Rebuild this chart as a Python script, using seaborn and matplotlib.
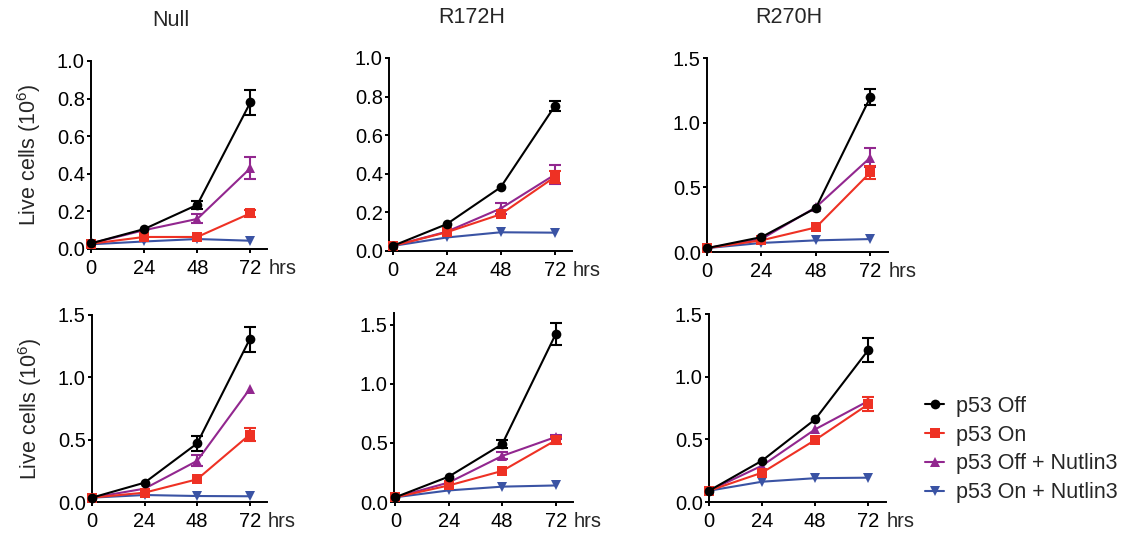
import numpy as np
import pandas as pd
import matplotlib
matplotlib.use("Agg")
import matplotlib.pyplot as plt
import seaborn as sns
from matplotlib.ticker import FormatStrFormatter
from matplotlib.lines import Line2D

sns.set_theme(style="ticks")
plt.rcParams["font.family"] = ["Liberation Sans", "DejaVu Sans"]
plt.rcParams["mathtext.fontset"] = "custom"
plt.rcParams["mathtext.rm"] = "Liberation Sans"
plt.rcParams["mathtext.default"] = "regular"

# ---------------- data ----------------
hours = [0, 24, 48, 72]
conditions = ["p53 Off", "p53 On", "p53 Off + Nutlin3", "p53 On + Nutlin3"]
titles = ["Null", "R172H", "R270H"]
ylabel_text = "Live cells (10$^{6}$)"

# rows = conditions (Off, On, Off+Nutlin3, On+Nutlin3), cols = hours
null_top_mean = [[0.03, 0.106, 0.235, 0.78],
                 [0.028, 0.064, 0.064, 0.19],
                 [0.03, 0.10, 0.16, 0.43],
                 [0.025, 0.04, 0.053, 0.044]]
null_top_err = [[0, 0, 0.022, 0.066],
                [0, 0, 0, 0.02],
                [0, 0, 0.024, 0.058],
                [0, 0, 0, 0]]

r172h_top_mean = [[0.026, 0.139, 0.33, 0.75],
                  [0.026, 0.097, 0.19, 0.383],
                  [0.026, 0.10, 0.22, 0.395],
                  [0.026, 0.07, 0.097, 0.095]]
r172h_top_err = [[0, 0, 0, 0.026],
                 [0, 0, 0, 0.032],
                 [0, 0, 0.03, 0.05],
                 [0, 0, 0, 0]]

r270h_top_mean = [[0.03, 0.115, 0.34, 1.197],
                  [0.03, 0.09, 0.19, 0.615],
                  [0.03, 0.10, 0.346, 0.73],
                  [0.03, 0.07, 0.09, 0.10]]
r270h_top_err = [[0, 0, 0, 0.06],
                 [0, 0, 0, 0.05],
                 [0, 0, 0, 0.075],
                 [0, 0, 0, 0]]

null_bot_mean = [[0.035, 0.155, 0.47, 1.305],
                 [0.035, 0.075, 0.182, 0.54],
                 [0.035, 0.107, 0.33, 0.906],
                 [0.035, 0.056, 0.048, 0.046]]
null_bot_err = [[0, 0, 0.06, 0.10],
                [0, 0, 0, 0.05],
                [0, 0, 0.045, 0],
                [0, 0, 0, 0]]

r172h_bot_mean = [[0.04, 0.215, 0.49, 1.42],
                  [0.04, 0.14, 0.263, 0.522],
                  [0.04, 0.165, 0.39, 0.55],
                  [0.04, 0.098, 0.13, 0.14]]
r172h_bot_err = [[0, 0, 0.035, 0.095],
                 [0, 0, 0, 0.03],
                 [0, 0, 0.03, 0.02],
                 [0, 0, 0, 0]]

r270h_bot_mean = [[0.09, 0.33, 0.66, 1.213],
                  [0.09, 0.234, 0.495, 0.78],
                  [0.09, 0.29, 0.58, 0.806],
                  [0.09, 0.162, 0.19, 0.194]]
r270h_bot_err = [[0, 0, 0, 0.095],
                 [0, 0, 0, 0.055],
                 [0, 0, 0, 0],
                 [0, 0, 0, 0]]

yticks_small = [0.0, 0.2, 0.4, 0.6, 0.8, 1.0]
yticks_large = [0.0, 0.5, 1.0, 1.5]

# ---------------- style ----------------
colors = ["#000000", "#EE3124", "#92278F", "#3A53A4"]
markers = ["o", "s", "^", "v"]
msizes = [7, 7, 7, 7]

W, H = 1124, 536
fig = plt.figure(figsize=(W / 100, H / 100), dpi=100)

FS_TICK = 14.5
FS_LAB = 15.5

panels = [
    dict(title="Null", mean=null_top_mean, err=null_top_err, yt=yticks_small, ylim=(0, 1.0),
         xlim=(0, 79.5), box=(91, 267, 61, 249), ylabel=True),
    dict(title="R172H", mean=r172h_top_mean, err=r172h_top_err, yt=yticks_small, ylim=(0, 1.0),
         xlim=(-1.6, 79.7), box=(389, 572, 58, 251), ylabel=False),
    dict(title="R270H", mean=r270h_top_mean, err=r270h_top_err, yt=yticks_large, ylim=(0, 1.5),
         xlim=(0, 79.8), box=(707, 888, 58, 252), ylabel=False),
    dict(title="", mean=null_bot_mean, err=null_bot_err, yt=yticks_large, ylim=(0, 1.5),
         xlim=(0, 79.9), box=(92, 267, 315, 502), ylabel=True),
    dict(title="", mean=r172h_bot_mean, err=r172h_bot_err, yt=yticks_large, ylim=(0, 1.6),
         xlim=(-0.6, 79.8), box=(394, 573, 313, 502), ylabel=False),
    dict(title="", mean=r270h_bot_mean, err=r270h_bot_err, yt=yticks_large, ylim=(0, 1.5),
         xlim=(0, 80), box=(709, 886, 314, 502), ylabel=False),
]

TICKLEN = 3.0
XPAD = 4.5
YPAD = 1.5

for p in panels:
    l, r, t, b = p["box"]
    ax = fig.add_axes([l / W, 1 - b / H, (r - l) / W, (b - t) / H])
    # draw in reverse so black ends up on top
    for i in reversed(range(len(conditions))):
        df = pd.DataFrame({"hours": hours, "cells": p["mean"][i]})
        sns.lineplot(data=df, x="hours", y="cells", ax=ax, color=colors[i],
                     marker=markers[i], markersize=msizes[i], markeredgewidth=0,
                     linewidth=1.5, errorbar=None, legend=False, clip_on=False,
                     zorder=3 + (3 - i))
        errs = np.array(p["err"][i])
        mask = errs > 0
        if mask.any():
            ax.errorbar(np.array(hours)[mask], np.array(p["mean"][i])[mask],
                        yerr=errs[mask], fmt="none", ecolor=colors[i],
                        elinewidth=1.5, capsize=4, capthick=1.5, clip_on=False,
                        zorder=3 + (3 - i))
    ax.set_xlim(*p["xlim"])
    ax.set_ylim(*p["ylim"])
    ax.set_xticks(hours)
    ax.set_xticklabels([str(h) for h in hours])
    ax.set_yticks(p["yt"])
    ax.yaxis.set_major_formatter(FormatStrFormatter("%.1f"))
    sns.despine(ax=ax)
    for s in ["left", "bottom"]:
        ax.spines[s].set_linewidth(1.4)
        ax.spines[s].set_color("black")
    ax.tick_params(axis="both", direction="out", length=TICKLEN, width=1.4,
                   labelsize=FS_TICK, colors="black")
    ax.tick_params(axis="x", pad=XPAD)
    ax.tick_params(axis="y", pad=YPAD)
    ax.set_xlabel("")
    if p["ylabel"]:
        ax.set_ylabel(ylabel_text, fontsize=FS_LAB, labelpad=10)
    else:
        ax.set_ylabel("")
    if p["title"]:
        ax.set_title(p["title"], fontsize=FS_LAB, x=36 / p["xlim"][1], pad=25)
    ax.annotate("hrs", xy=(72, 0), xycoords=("data", "axes fraction"),
                xytext=(13, -(TICKLEN + XPAD)), textcoords="offset points",
                ha="left", va="top", fontsize=FS_TICK)

handles = [Line2D([0], [0], color=colors[i], marker=markers[i], markersize=7,
                  markeredgewidth=0, linewidth=1.5) for i in range(len(conditions))]
fig.legend(handles, conditions, loc="upper left", bbox_to_anchor=(925 / W, 1 - 396 / H),
           frameon=False, fontsize=FS_LAB, handlelength=0.9, handletextpad=0.55,
           labelspacing=0.36, borderpad=0, borderaxespad=0)

fig.savefig("out.png", dpi=100)
